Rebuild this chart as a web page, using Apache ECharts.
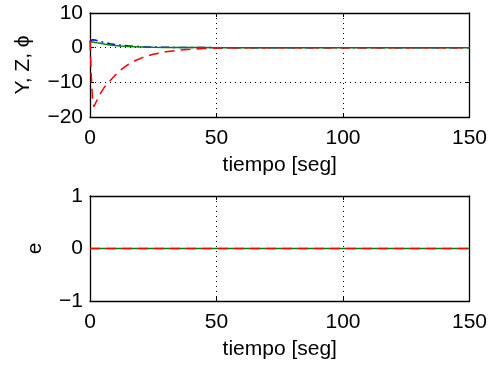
<!DOCTYPE html>
<html>
<head>
<meta charset="utf-8">
<script src="https://cdn.jsdelivr.net/npm/echarts@6/dist/echarts.min.js"></script>
<style>
  html, body { margin: 0; padding: 0; background: #fff; }
  #chart { width: 490px; height: 367px; }
</style>
</head>
<body>
<div id="chart"></div>
<script>
// time samples
const tTop = [0, 0.5, 1, 1.5, 2, 3, 4, 5, 6, 8, 10, 12, 15, 18, 21, 25, 30, 35, 40, 45, 50, 60, 80, 100, 120, 150];
const yBlue = [1.9, 2.1, 2.3, 2.3, 2.2, 2.0, 1.8, 1.6, 1.45, 1.15, 0.9, 0.72, 0.52, 0.38, 0.28, 0.18, 0.1, 0.06, 0.03, 0.02, 0.01, 0, 0, 0, 0, 0];
const zGreen = [1.8, 1.72, 1.65, 1.58, 1.5, 1.38, 1.25, 1.12, 1.0, 0.8, 0.62, 0.5, 0.36, 0.27, 0.2, 0.13, 0.08, 0.05, 0.03, 0.02, 0.01, 0, 0, 0, 0, 0];
const phiRed = [2, -8, -15, -17, -16.3, -14.8, -13.4, -12.2, -11.1, -9.5, -7.9, -6.5, -4.9, -3.7, -2.8, -1.9, -1.2, -0.7, -0.45, -0.25, -0.12, -0.04, 0, 0, 0, 0];

// bottom plot: error signals stay at zero
const tBottom = [0, 50, 100, 150];
const eGreen = [0, 0, 0, 0];
const eRed = [0, 0, 0, 0];

const xTicks = [0, 50, 100, 150];
const yTopTicks = [-20, -10, 0, 10];
const yBottomTicks = [-1, 0, 1];

const font = 'Liberation Sans, Arial, Helvetica, sans-serif';
const fs = 21;
const minus = (v) => String(v).replace('-', '\u2212');
const pairs = (xs, ys) => xs.map((x, i) => [x, ys[i]]);

const dotted = { color: '#000', width: 1, type: [1, 4] };

function xAxisFor(gridIndex, main) {
  return {
    type: 'value',
    gridIndex,
    position: main ? 'bottom' : 'top',
    min: xTicks[0],
    max: xTicks[xTicks.length - 1],
    interval: 50,
    name: main ? 'tiempo [seg]' : '',
    nameLocation: 'middle',
    nameGap: 38,
    nameTextStyle: { color: '#000', fontSize: fs, fontFamily: font },
    axisLine: { show: true, onZero: false, lineStyle: { color: '#000', width: 1.3 } },
    axisTick: { show: true, inside: true, length: 4, lineStyle: { color: '#000' } },
    axisLabel: { show: main, color: '#000', fontSize: fs, fontFamily: font, margin: 11, formatter: minus },
    splitLine: { show: main, lineStyle: dotted },
  };
}

function yAxisFor(gridIndex, main, ticks, label, gap) {
  return {
    type: 'value',
    gridIndex,
    position: main ? 'left' : 'right',
    min: ticks[0],
    max: ticks[ticks.length - 1],
    interval: ticks[1] - ticks[0],
    name: main ? label : '',
    nameLocation: 'middle',
    nameGap: gap,
    nameTextStyle: { color: '#000', fontSize: fs, fontFamily: font },
    axisLine: { show: true, onZero: false, lineStyle: { color: '#000', width: 1.3 } },
    axisTick: { show: true, inside: true, length: 4, lineStyle: { color: '#000' } },
    axisLabel: { show: main, color: '#000', fontSize: fs, fontFamily: font, margin: 7, formatter: minus },
    splitLine: { show: main, lineStyle: dotted },
  };
}

function lineSeries(xi, yi, data, color, type) {
  return {
    type: 'line',
    xAxisIndex: xi,
    yAxisIndex: yi,
    data,
    showSymbol: false,
    symbol: 'none',
    lineStyle: { color, width: 1.5, type },
    animation: false,
  };
}

const chart = echarts.init(document.getElementById('chart'));
chart.setOption({
  animation: false,
  backgroundColor: '#fff',
  grid: [
    { left: 90, top: 13, width: 381, height: 104 },
    { left: 90, top: 196, width: 381, height: 105 },
  ],
  xAxis: [
    xAxisFor(0, true),
    xAxisFor(0, false),
    xAxisFor(1, true),
    xAxisFor(1, false),
  ],
  yAxis: [
    yAxisFor(0, true, yTopTicks, 'Y, Z, \u03d5', 56),
    yAxisFor(0, false, yTopTicks, '', 0),
    yAxisFor(1, true, yBottomTicks, 'e', 44),
    yAxisFor(1, false, yBottomTicks, '', 0),
  ],
  series: [
    lineSeries(0, 0, pairs(tTop, yBlue), '#0000ff', [8, 4, 2, 4]),
    lineSeries(0, 0, pairs(tTop, zGreen), '#008000', 'solid'),
    lineSeries(0, 0, pairs(tTop, phiRed), '#ff0000', [10, 6]),
    lineSeries(2, 2, pairs(tBottom, eGreen), '#008000', 'solid'),
    lineSeries(2, 2, pairs(tBottom, eRed), '#ff0000', [10, 6]),
  ],
});
</script>
</body>
</html>
